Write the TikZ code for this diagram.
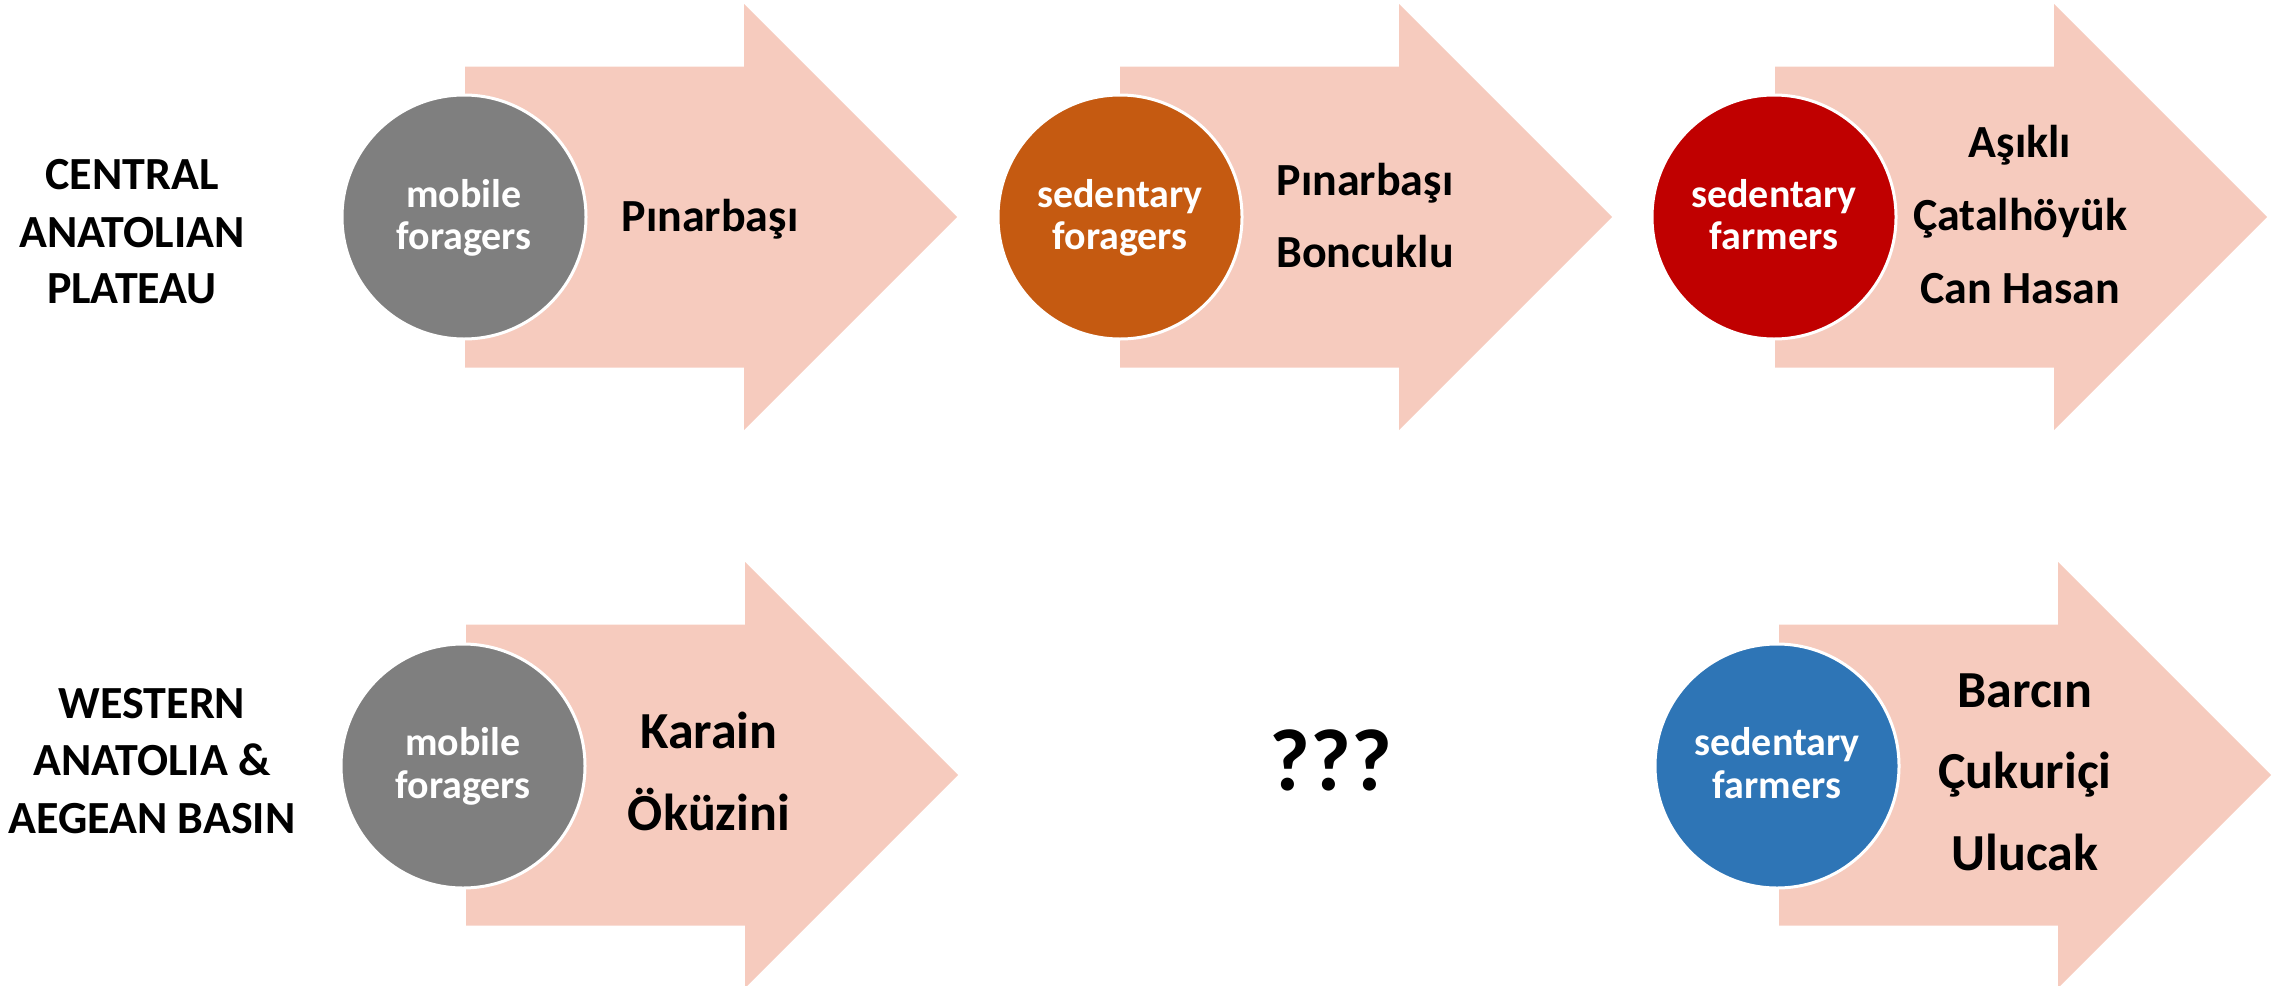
\documentclass[tikz,border=0pt]{standalone}
\usepackage{fontspec}
\setmainfont{Carlito}
\definecolor{arrowfill}{HTML}{F6CBBE}
\definecolor{cgray}{HTML}{7F7F7F}
\definecolor{corange}{HTML}{C55A11}
\definecolor{cred}{HTML}{C00000}
\definecolor{cblue}{HTML}{2E75B6}
\tikzset{
  bigarrow/.pic={\fill[arrowfill] (0,-150.5) -- (279,-150.5) -- (279,-213) -- (492,0) -- (279,213) -- (279,150.5) -- (0,150.5) -- cycle;},
  stage/.style={circle, draw=white, line width=3pt, minimum size=244pt, inner sep=0pt},
  ctext/.style={anchor=base, inner sep=0pt, text=white, font=\fontsize{40}{48}\selectfont\bfseries},
  region/.style={anchor=base, inner sep=0pt, font=\fontsize{46}{55}\selectfont\bfseries},
  site/.style={anchor=base, inner sep=0pt, font=\fontsize{46}{55}\selectfont\bfseries},
  sitebig/.style={anchor=base, inner sep=0pt, font=\fontsize{52}{62}\selectfont\bfseries},
}
\begin{document}
\begin{tikzpicture}[x=1pt,y=-1pt]
\useasboundingbox (0,0) rectangle (2283,985);
% region labels
\node[region] (r1a) at (132,189) {CENTRAL};
\node[region] (r1b) at (132,247) {ANATOLIAN};
\node[region] (r1c) at (132,303) {PLATEAU};
\node[region] (r2a) at (152,718) {WESTERN};
\node[region] (r2b) at (152,775) {ANATOLIA \&};
\node[region] (r2c) at (152,833) {AEGEAN BASIN};
% arrows
\pic at (465,217) {bigarrow};
\pic at (1120,217) {bigarrow};
\pic at (1775,217) {bigarrow};
\pic at (466,775) {bigarrow};
\pic at (1779,775) {bigarrow};
% circles
\node[stage, fill=cgray] (s1) at (464,217) {};
\node[ctext] (s1a) at ([yshift=10pt]s1.center) {mobile};
\node[ctext] (s1b) at ([yshift=-32pt]s1.center) {foragers};
\node[stage, fill=corange] (s2) at (1120,217) {};
\node[ctext] (s2a) at ([yshift=10pt]s2.center) {sedentary};
\node[ctext] (s2b) at ([yshift=-32pt]s2.center) {foragers};
\node[stage, fill=cred] (s3) at (1774,217) {};
\node[ctext] (s3a) at ([yshift=10pt]s3.center) {sedentary};
\node[ctext] (s3b) at ([yshift=-32pt]s3.center) {farmers};
\node[stage, fill=cgray] (s4) at (463,766) {};
\node[ctext] (s4a) at ([yshift=11pt]s4.center) {mobile};
\node[ctext] (s4b) at ([yshift=-32pt]s4.center) {foragers};
\node[stage, fill=cblue] (s5) at (1777,766) {};
\node[ctext] (s5a) at ([yshift=11pt]s5.center) {sedentary};
\node[ctext] (s5b) at ([yshift=-32pt]s5.center) {farmers};
% sites
\node[site] (p1) at (710,231) {Pınarbaşı};
\node[site] (p2) at (1365,195) {Pınarbaşı};
\node[site] (b2) at (1365,267) {Boncuklu};
\node[site] (a3) at (2020,157) {Aşıklı};
\node[site] (c3) at (2020,230) {Çatalhöyük};
\node[site] (h3) at (2020,303) {Can Hasan};
\node[sitebig] (k1) at (709,748) {Karain};
\node[sitebig] (o1) at (709,830) {Öküzini};
\node[sitebig] (q) at (1331,790) {\fontsize{88}{100}\selectfont ???};
\node[sitebig] (b5) at (2025,707) {Barcın};
\node[sitebig] (c5) at (2025,788) {Çukuriçi};
\node[sitebig] (u5) at (2025,870) {Ulucak};
\end{tikzpicture}
\end{document}
